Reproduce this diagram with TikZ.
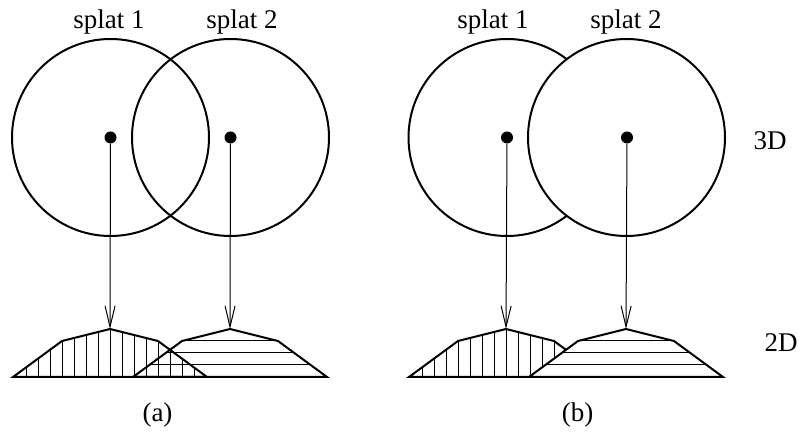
\documentclass[tikz,border=0pt]{standalone}
\usepackage{fontspec}
\setmainfont{Liberation Serif}
\usepackage{tikz}
\usetikzlibrary{arrows.meta,positioning}
\tikzset{
  sphere/.style={draw,circle,line width=2pt,inner sep=0pt,minimum size=197pt},
  centre/.style={circle,fill,inner sep=0pt,minimum size=12pt},
  lbl/.style={font=\fontsize{27}{30}\selectfont,anchor=base,inner sep=0pt},
  outline/.style={line width=2pt,line join=miter},
  hatch/.style={line width=1pt},
  proj/.style={-{Straight Barb[length=21pt,width=10pt]},line width=1pt},
}
% footprint of one splat, relative to its peak
\newcommand{\splatshape}{(-97,48) -- (-48,12) -- (0,0) -- (48,12) -- (97,48) -- cycle}

\begin{document}
\begin{tikzpicture}[x=1pt,y=-1pt]
  \useasboundingbox (0,0) rectangle (803,435);

  % (a): both splats blended
  \node[sphere] (a1) at (110.5,137.5) {};
  \node[sphere] (a2) at (230.5,137.5) {};
  \node[lbl] (la1) at (109,29) {splat 1};
  \node[lbl] (la2) at (242,29) {splat 2};
  \node[centre] (da1) at (110.5,137.5) {};
  \node[centre] (da2) at (230.5,137.5) {};
  \coordinate (pa1) at (110,329);
  \coordinate (pa2) at (230,329);

  \begin{scope}[shift={(pa1)}]
    \begin{scope}
      \clip \splatshape;
      \foreach \x in {-84,-72,...,84} \draw[hatch] (\x,0) -- (\x,48);
    \end{scope}
    \draw[outline] \splatshape;
  \end{scope}
  \begin{scope}[shift={(pa2)}]
    \begin{scope}
      \clip \splatshape;
      \foreach \y in {12,24,36} \draw[hatch] (-97,\y) -- (97,\y);
    \end{scope}
    \draw[outline] \splatshape;
  \end{scope}

  \draw[proj] (da1) -- (pa1);
  \draw[proj] (da2) -- (pa2);
  \node[lbl] (capa) at (157.5,421) {(a)};

  % (b): splat 2 in front of splat 1
  \node[sphere] (b1) at (507,137.5) {};
  \node[sphere,fill=white] (b2) at (626.5,137.5) {};
  \node[lbl] (lb1) at (493,29) {splat 1};
  \node[lbl] (lb2) at (626,29) {splat 2};
  \node[centre] (db1) at (507,137.5) {};
  \node[centre] (db2) at (627,137.5) {};
  \coordinate (pb1) at (506,329);
  \coordinate (pb2) at (626,329);

  \begin{scope}[shift={(pb1)}]
    \begin{scope}
      \clip \splatshape;
      \foreach \x in {-84,-72,...,84} \draw[hatch] (\x,0) -- (\x,48);
    \end{scope}
    \draw[outline] \splatshape;
  \end{scope}
  \begin{scope}[shift={(pb2)}]
    \fill[white] \splatshape;
    \begin{scope}
      \clip \splatshape;
      \foreach \y in {12,24,36} \draw[hatch] (-97,\y) -- (97,\y);
    \end{scope}
    \draw[outline] \splatshape;
  \end{scope}

  \draw[proj] (db1) -- (pb1);
  \draw[proj] (db2) -- (pb2);
  \node[lbl] (capb) at (577.5,421) {(b)};

  \node[lbl] (l3d) at (770,150) {3D};
  \node[lbl] (l2d) at (781,352) {2D};
\end{tikzpicture}
\end{document}
